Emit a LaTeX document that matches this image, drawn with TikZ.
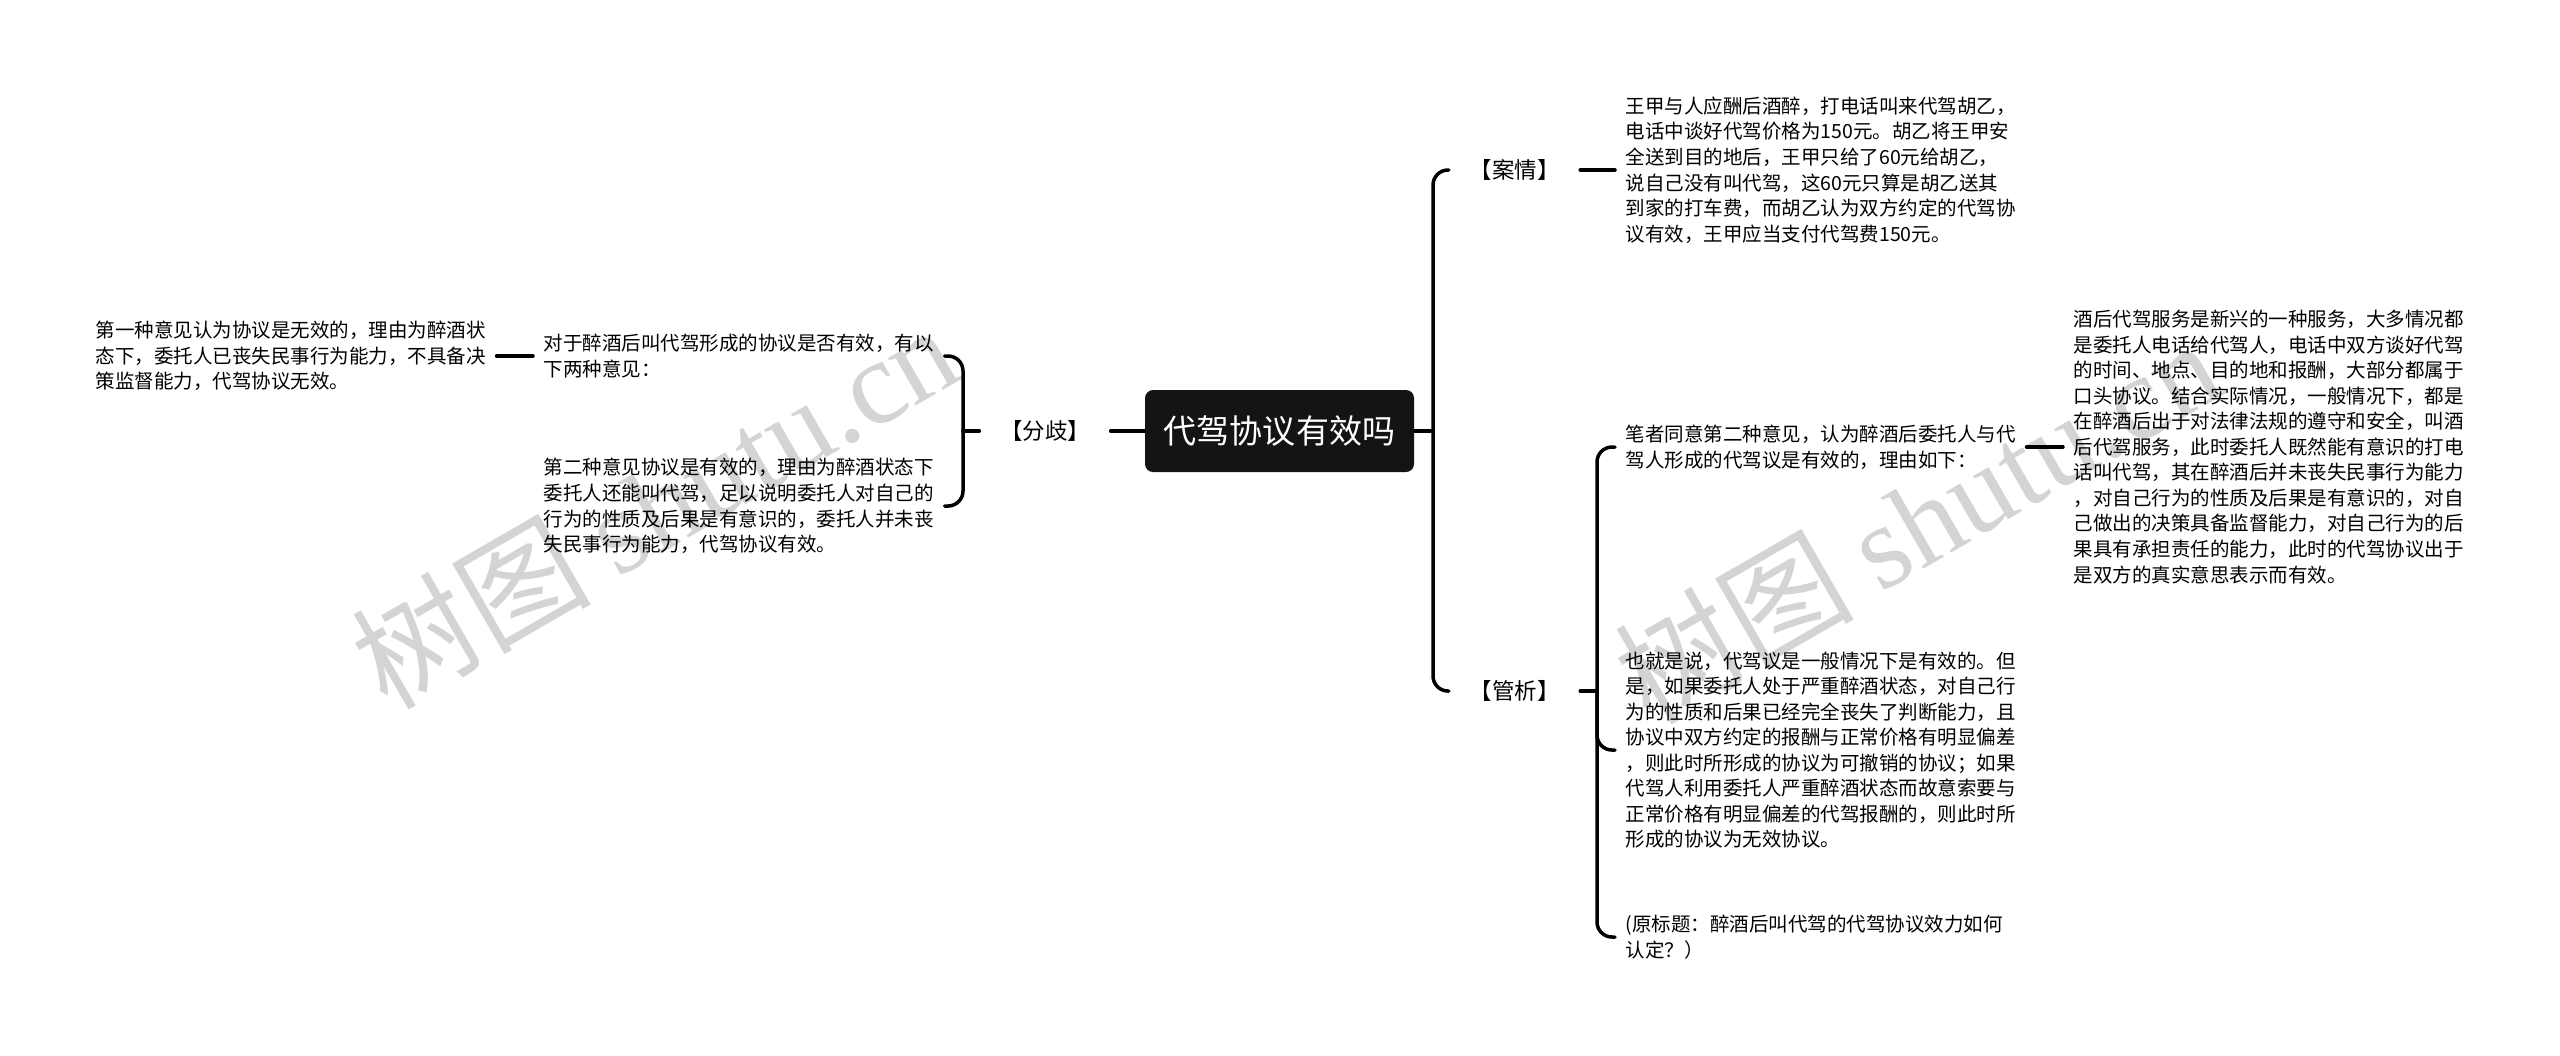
\documentclass[tikz,border=0pt]{standalone}
\usepackage{fontspec}
\newfontfamily\cjk{Noto Sans CJK SC}
\newfontfamily\marcalat{Liberation Serif}
\tikzset{
  texto/.style={font=\cjk\fontsize{5.55}{7.26}\selectfont, align=left, anchor=west,
    inner xsep=0.1cm, inner ysep=0.05cm},
  etiqueta/.style={font=\cjk\fontsize{6.4}{7.5}\selectfont, inner xsep=0pt, inner ysep=0.1cm,
    minimum width=1.3cm},
  rama/.style={line width=0.035cm, rounded corners=0.15cm},
  marca/.style={text=black!17, rotate=30, font=\cjk\fontsize{34}{34}\selectfont, inner sep=0pt}
}
\begin{document}
\begin{tikzpicture}[line cap=round, line join=round]
  % el fondo y el marco de la página
  \fill[white] (0,0) rectangle (25.6,-10.55);
  \useasboundingbox (0,0) rectangle (25.6,-10.55);
  % las dos marcas de agua, detrás de todo
  \node[marca] (marca1) at (6.54,-5.05) {树图 {\marcalat shutu.cn}};
  \node[marca] (marca2) at (19.17,-5.2) {树图 {\marcalat shutu.cn}};
  % el tema en el centro
  \node[fill=black!92, text=white, rounded corners=0.08cm, minimum width=2.69cm,
    minimum height=0.82cm, font=\cjk\fontsize{9.4}{11}\selectfont] (zhuti) at (12.795,-4.31) {代驾协议有效吗};
  % las tres etiquetas
  \node[etiqueta] (fenqi) at (10.45,-4.31) {【分歧】};
  \node[etiqueta] (anqing) at (15.145,-1.70) {【案情】};
  \node[etiqueta] (guanxi) at (15.145,-6.91) {【管析】};
  % la rama de la izquierda
  \node[texto] (wenti) at (5.33,-3.56) {对于醉酒后叫代驾形成的协议是否有效，有以\\下两种意见：};
  \node[texto] (yijianB) at (5.33,-5.06) {第二种意见协议是有效的，理由为醉酒状态下\\委托人还能叫代驾，足以说明委托人对自己的\\行为的性质及后果是有意识的，委托人并未丧\\失民事行为能力，代驾协议有效。};
  \node[texto] (yijianA) at (0.85,-3.56) {第一种意见认为协议是无效的，理由为醉酒状\\态下，委托人已丧失民事行为能力，不具备决\\策监督能力，代驾协议无效。};
  % la rama de la derecha
  \node[texto] (anqingwen) at (16.15,-1.70) {王甲与人应酬后酒醉，打电话叫来代驾胡乙，\\电话中谈好代驾价格为150元。胡乙将王甲安\\全送到目的地后，王甲只给了60元给胡乙，\\说自己没有叫代驾，这60元只算是胡乙送其\\到家的打车费，而胡乙认为双方约定的代驾协\\议有效，王甲应当支付代驾费150元。};
  \node[texto] (tongyi) at (16.15,-4.47) {笔者同意第二种意见，认为醉酒后委托人与代\\驾人形成的代驾议是有效的，理由如下：};
  \node[texto] (liyou) at (20.63,-4.47) {酒后代驾服务是新兴的一种服务，大多情况都\\是委托人电话给代驾人，电话中双方谈好代驾\\的时间、地点、目的地和报酬，大部分都属于\\口头协议。结合实际情况，一般情况下，都是\\在醉酒后出于对法律法规的遵守和安全，叫酒\\后代驾服务，此时委托人既然能有意识的打电\\话叫代驾，其在醉酒后并未丧失民事行为能力\\，对自己行为的性质及后果是有意识的，对自\\己做出的决策具备监督能力，对自己行为的后\\果具有承担责任的能力，此时的代驾协议出于\\是双方的真实意思表示而有效。};
  \node[texto] (yejiu) at (16.15,-7.50) {也就是说，代驾议是一般情况下是有效的。但\\是，如果委托人处于严重醉酒状态，对自己行\\为的性质和后果已经完全丧失了判断能力，且\\协议中双方约定的报酬与正常价格有明显偏差\\，则此时所形成的协议为可撤销的协议；如果\\代驾人利用委托人严重醉酒状态而故意索要与\\正常价格有明显偏差的代驾报酬的，则此时所\\形成的协议为无效协议。};
  \node[texto] (yuanti) at (16.15,-9.37) {(原标题：醉酒后叫代驾的代驾协议效力如何\\认定？）};
  % los conectores
  \coordinate (izq) at (9.63,-4.31);
  \coordinate (der) at (14.33,-4.31);
  \coordinate (der2) at (15.97,-6.91);
  \draw[rama] (zhuti.west) -- (fenqi.east);
  \draw[rama] (fenqi.west) -- (izq);
  \foreach \n in {wenti, yijianB} {
    \draw[rama] (izq) |- (\n.east);
  }
  \draw[rama] (wenti.west) -- (yijianA.east);
  \draw[rama] (zhuti.east) -- (der);
  \foreach \n in {anqing, guanxi} {
    \draw[rama] (der) |- (\n.west);
  }
  \draw[rama] (anqing.east) -- (anqingwen.west);
  \draw[rama] (guanxi.east) -- (der2);
  \foreach \n in {tongyi, yejiu, yuanti} {
    \draw[rama] (der2) |- (\n.west);
  }
  \draw[rama] (tongyi.east) -- (liyou.west);
\end{tikzpicture}
\end{document}
